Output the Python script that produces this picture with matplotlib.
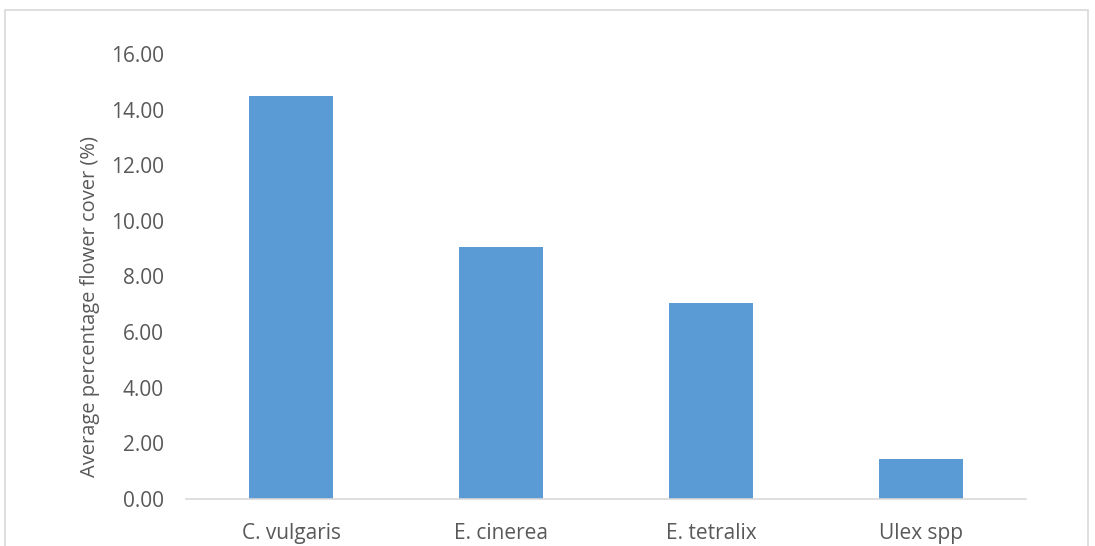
import matplotlib.pyplot as plt
from matplotlib.patches import Rectangle

species = ['C. vulgaris', 'E. cinerea', 'E. tetralix', 'Ulex spp']
cover = [14.50, 9.06, 7.05, 1.44]
yticks = [0, 2, 4, 6, 8, 10, 12, 14, 16]

plt.rcParams['font.family'] = ['Open Sans', 'DejaVu Sans']
grey = '#595959'

W, H = 1095, 546
fig = plt.figure(figsize=(W / 100, H / 100), dpi=100)
ax = fig.add_axes([186 / W, 1 - 499 / H, 840 / W, 445 / H])

ax.bar(range(len(species)), cover, width=0.4, color='#5b9bd5')
ax.set_xlim(-0.5, len(species) - 0.5)
ax.set_ylim(0, 16)
ax.set_yticks(yticks)
ax.set_yticklabels([f'{v:.2f}' for v in yticks])
ax.set_xticks(range(len(species)))
ax.set_xticklabels(species)
ax.tick_params(axis='both', length=0, labelsize=15, colors=grey)
ax.tick_params(axis='x', pad=17)
ax.tick_params(axis='y', pad=16)
for s in ['top', 'right', 'left']:
    ax.spines[s].set_visible(False)
ax.spines['bottom'].set_color('#d9d9d9')
ax.spines['bottom'].set_linewidth(1.2)
ax.set_ylabel('Average percentage flower cover (%)', fontsize=14.5, color=grey)
ax.yaxis.set_label_coords(-0.102, 0.433)

# chart area border
fig.patches.append(Rectangle((5 / W, -0.05), 1083 / W, 1.05 - 10 / H, transform=fig.transFigure,
                             fill=False, edgecolor='#d9d9d9', linewidth=1.2))

fig.savefig('out.png', dpi=100)
